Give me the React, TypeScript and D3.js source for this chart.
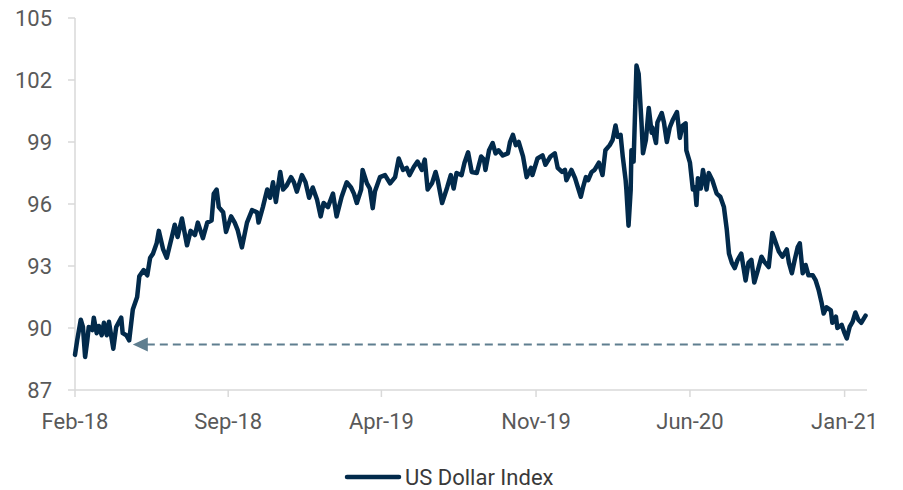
import React from "react";
import * as d3 from "d3";

// US Dollar Index
const dates = [
  "2018-02-01", "2018-02-04", "2018-02-09", "2018-02-12", "2018-02-15", "2018-02-18", "2018-02-20", "2018-02-25",
  "2018-02-27", "2018-03-03", "2018-03-06", "2018-03-10", "2018-03-13", "2018-03-17", "2018-03-20", "2018-03-26",
  "2018-03-30", "2018-04-06", "2018-04-08", "2018-04-13", "2018-04-17", "2018-04-22", "2018-04-28", "2018-05-01",
  "2018-05-07", "2018-05-12", "2018-05-16", "2018-05-20", "2018-05-25", "2018-05-28", "2018-06-03", "2018-06-08",
  "2018-06-15", "2018-06-19", "2018-06-23", "2018-06-29", "2018-07-06", "2018-07-11", "2018-07-17", "2018-07-21",
  "2018-07-28", "2018-08-03", "2018-08-09", "2018-08-12", "2018-08-16", "2018-08-19", "2018-08-25", "2018-08-29",
  "2018-09-05", "2018-09-10", "2018-09-14", "2018-09-20", "2018-09-27", "2018-10-04", "2018-10-11", "2018-10-13",
  "2018-10-19", "2018-10-25", "2018-10-29", "2018-11-02", "2018-11-06", "2018-11-12", "2018-11-16", "2018-11-21",
  "2018-11-27", "2018-12-01", "2018-12-05", "2018-12-12", "2018-12-17", "2018-12-22", "2018-12-27", "2019-01-02",
  "2019-01-07", "2019-01-11", "2019-01-17", "2019-01-24", "2019-01-29", "2019-02-05", "2019-02-12", "2019-02-18",
  "2019-02-22", "2019-02-26", "2019-03-04", "2019-03-06", "2019-03-12", "2019-03-16", "2019-03-20", "2019-03-23",
  "2019-03-30", "2019-04-06", "2019-04-13", "2019-04-20", "2019-04-25", "2019-05-01", "2019-05-06", "2019-05-10",
  "2019-05-16", "2019-05-21", "2019-05-27", "2019-05-31", "2019-06-04", "2019-06-10", "2019-06-15", "2019-06-18",
  "2019-06-24", "2019-07-01", "2019-07-06", "2019-07-10", "2019-07-14", "2019-07-21", "2019-07-25", "2019-07-30",
  "2019-08-04", "2019-08-11", "2019-08-17", "2019-08-21", "2019-08-23", "2019-08-28", "2019-09-02", "2019-09-06",
  "2019-09-10", "2019-09-16", "2019-09-23", "2019-09-26", "2019-09-30", "2019-10-04", "2019-10-08", "2019-10-14",
  "2019-10-19", "2019-10-25", "2019-10-27", "2019-11-03", "2019-11-10", "2019-11-14", "2019-11-21", "2019-11-27",
  "2019-12-01", "2019-12-07", "2019-12-11", "2019-12-13", "2019-12-20", "2019-12-25", "2019-12-29", "2020-01-02",
  "2020-01-05", "2020-01-09", "2020-01-12", "2020-01-17", "2020-01-21", "2020-01-27", "2020-02-01", "2020-02-05",
  "2020-02-11", "2020-02-15", "2020-02-19", "2020-02-22", "2020-02-26", "2020-02-29", "2020-03-04", "2020-03-05",
  "2020-03-08", "2020-03-11", "2020-03-12", "2020-03-15", "2020-03-19", "2020-03-22", "2020-03-26", "2020-03-28",
  "2020-04-01", "2020-04-05", "2020-04-09", "2020-04-10", "2020-04-15", "2020-04-17", "2020-04-23", "2020-04-26",
  "2020-04-30", "2020-05-04", "2020-05-08", "2020-05-14", "2020-05-18", "2020-05-22", "2020-05-26", "2020-05-27",
  "2020-06-01", "2020-06-05", "2020-06-08", "2020-06-10", "2020-06-12", "2020-06-16", "2020-06-19", "2020-06-24",
  "2020-06-27", "2020-07-02", "2020-07-08", "2020-07-13", "2020-07-18", "2020-07-22", "2020-07-25", "2020-07-29",
  "2020-08-02", "2020-08-06", "2020-08-11", "2020-08-17", "2020-08-21", "2020-08-25", "2020-08-29", "2020-09-03",
  "2020-09-08", "2020-09-12", "2020-09-18", "2020-09-23", "2020-09-28", "2020-10-02", "2020-10-07", "2020-10-13",
  "2020-10-16", "2020-10-20", "2020-10-24", "2020-10-28", "2020-10-31", "2020-11-04", "2020-11-08", "2020-11-12",
  "2020-11-18", "2020-11-22", "2020-11-26", "2020-11-30", "2020-12-03", "2020-12-07", "2020-12-13", "2020-12-15",
  "2020-12-20", "2020-12-22", "2020-12-28", "2021-01-01", "2021-01-04", "2021-01-08", "2021-01-12", "2021-01-16",
  "2021-01-20", "2021-01-24", "2021-01-30",
];

const values = [
  88.7, 89.4, 90.4, 90.05, 88.6, 89.4, 90.05, 89.9,
  90.5, 89.75, 90.1, 89.65, 90.25, 89.65, 90.3, 89.0,
  90.05, 90.5, 89.75, 89.65, 89.4, 90.9, 91.5, 92.5,
  92.8, 92.55, 93.4, 93.6, 94.1, 94.7, 93.8, 93.4,
  94.4, 95.0, 94.4, 95.3, 94.0, 94.7, 94.5, 95.1,
  94.35, 95.1, 95.2, 96.5, 96.7, 95.85, 95.6, 94.65,
  95.4, 95.1, 94.75, 93.9, 95.1, 95.7, 95.6, 95.1,
  95.85, 96.7, 96.3, 97.05, 96.1, 97.55, 96.7, 96.9,
  97.3, 97.05, 96.6, 97.4, 97.05, 96.3, 96.8, 96.2,
  95.4, 96.05, 95.85, 96.5, 95.4, 96.35, 97.05, 96.8,
  96.5, 96.05, 96.7, 97.65, 97.0, 96.75, 95.8, 96.6,
  97.3, 97.4, 97.0, 97.3, 98.2, 97.65, 97.75, 97.4,
  97.8, 98.05, 97.65, 98.15, 96.7, 97.0, 97.55, 97.15,
  96.05, 96.8, 97.4, 96.75, 97.5, 97.4, 98.0, 98.5,
  97.55, 97.5, 98.3, 98.15, 97.65, 98.6, 98.95, 98.45,
  98.6, 98.35, 98.45, 99.0, 99.35, 98.85, 99.0, 98.3,
  97.3, 97.75, 97.4, 98.2, 98.35, 97.9, 98.3, 98.45,
  97.75, 97.55, 97.65, 97.15, 97.65, 97.25, 96.8, 96.35,
  96.8, 97.3, 97.15, 97.55, 97.65, 98.0, 97.4, 98.6,
  98.85, 99.1, 99.8, 99.25, 99.35, 98.3, 97.15, 96.7,
  94.95, 96.7, 98.6, 98.05, 102.7, 102.3, 99.9, 98.45,
  99.1, 100.65, 99.45, 99.7, 98.95, 99.95, 100.4, 99.95,
  99.0, 99.7, 100.05, 100.45, 99.2, 99.8, 99.9, 98.6,
  98.0, 96.7, 96.8, 95.95, 97.25, 96.75, 97.65, 96.7,
  97.5, 97.15, 96.5, 96.35, 95.85, 94.75, 93.6, 93.15,
  92.9, 93.3, 93.6, 92.3, 93.15, 93.3, 92.2, 92.8,
  93.45, 93.2, 92.95, 94.6, 94.1, 93.7, 93.45, 93.8,
  93.15, 92.65, 93.3, 93.9, 94.1, 92.65, 93.05, 92.55,
  92.55, 92.3, 91.85, 91.25, 90.7, 91.0, 90.85, 90.25,
  90.55, 90.0, 90.15, 89.75, 89.5, 90.05, 90.3, 90.75,
  90.4, 90.25, 90.6,
];

const yTicks = [87, 90, 93, 96, 99, 102, 105];
const xTickDates = ["2018-02-01", "2018-09-01", "2019-04-01", "2019-11-01", "2020-06-01", "2021-01-01"];
const seriesName = "US Dollar Index";

// dashed support level drawn back from the latest low to the April 2018 low
const supportLevel = 89.2;
const supportFrom = "2018-04-22";
const supportTo = "2021-01-05";

const parse = d3.timeParse("%Y-%m-%d");
const fmt = d3.timeFormat("%b-%y");

const App = () => {
  const width = 903;
  const height = 490;
  const left = 75;
  const right = 867;
  const top = 18;
  const bottom = 390;

  const x = d3
    .scaleTime()
    .domain([parse("2018-02-01")!, parse("2021-02-01")!])
    .range([left, right]);
  const y = d3.scaleLinear().domain([87, 105]).range([bottom, top]);

  const points = dates.map((d, i) => ({ date: parse(d)!, value: values[i] }));
  const line = d3
    .line<{ date: Date; value: number }>()
    .x((d) => x(d.date))
    .y((d) => y(d.value))
    .curve(d3.curveLinear);

  const axisColor = "#d9d9d9";
  const textColor = "#595959";
  const lineColor = "#022a4b";
  const dashColor = "#5f7e8f";
  const font = "Roboto, 'Noto Sans', sans-serif";

  const sx0 = x(parse(supportFrom)!);
  const sx1 = x(parse(supportTo)!);
  const sy = y(supportLevel);

  return (
    <div style={{ position: "absolute", left: 0, top: 0 }}>
      <svg width={width} height={height} style={{ display: "block", background: "#fff" }}>
        {/* y axis */}
        <line x1={left} x2={left} y1={top} y2={bottom} stroke={axisColor} strokeWidth={1.5} />
        {yTicks.map((t) => (
          <g key={t}>
            <line x1={left - 7} x2={left} y1={y(t)} y2={y(t)} stroke={axisColor} strokeWidth={1.5} />
            <text
              x={52}
              y={y(t)}
              dy="0.35em"
              textAnchor="end"
              fontFamily={font}
              fontSize={22}
              fill={textColor}
            >
              {t}
            </text>
          </g>
        ))}

        {/* x axis */}
        <line x1={left} x2={right} y1={bottom} y2={bottom} stroke={axisColor} strokeWidth={1.5} />
        {xTickDates.map((d) => {
          const xx = x(parse(d)!);
          return (
            <g key={d}>
              <line x1={xx} x2={xx} y1={bottom} y2={bottom + 7} stroke={axisColor} strokeWidth={1.5} />
              <text
                x={xx}
                y={421}
                dy="0.35em"
                textAnchor="middle"
                fontFamily={font}
                fontSize={22}
                fill={textColor}
              >
                {fmt(parse(d)!)}
              </text>
            </g>
          );
        })}

        {/* support level with arrow */}
        <line
          x1={sx0 + 14}
          x2={sx1}
          y1={sy}
          y2={sy}
          stroke={dashColor}
          strokeWidth={2}
          strokeDasharray="8,5"
        />
        <path
          d={`M${sx0},${sy} L${sx0 + 15},${sy - 7} L${sx0 + 15},${sy + 7} Z`}
          fill={dashColor}
        />

        {/* series */}
        <path
          d={line(points) ?? ""}
          fill="none"
          stroke={lineColor}
          strokeWidth={4.5}
          strokeLinejoin="round"
          strokeLinecap="round"
        />

        {/* legend */}
        <line x1={347} x2={399} y1={477} y2={477} stroke={lineColor} strokeWidth={4.5} strokeLinecap="round" />
        <text x={405} y={477} dy="0.35em" fontFamily={font} fontSize={22} fill="#3a3a3a">
          {seriesName}
        </text>
      </svg>
    </div>
  );
};

export default App;
